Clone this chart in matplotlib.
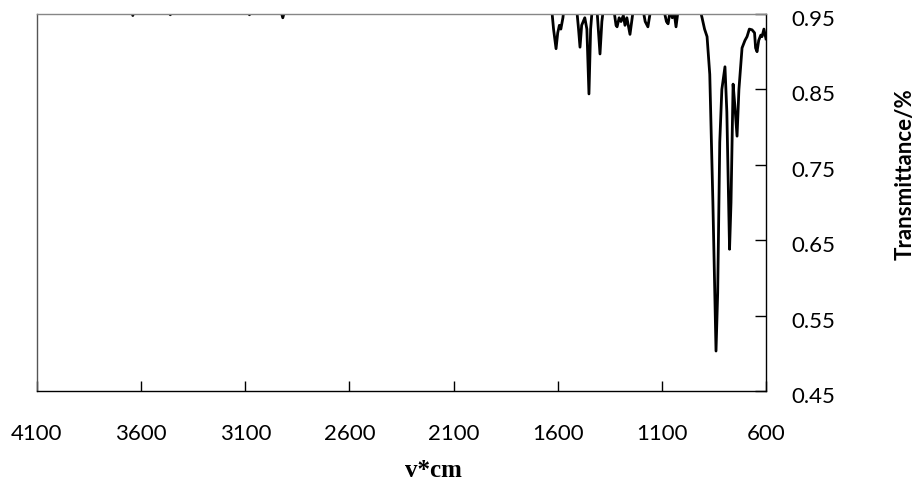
import matplotlib.pyplot as plt
import matplotlib.transforms as mtransforms
import numpy as np

# IR spectrum (wavenumber, transmittance)
wavenumber = [4100, 3660, 3640, 3620, 3480, 3460, 3440, 3100, 3080, 3060,
              2940, 2920, 2900, 1660, 1630, 1620, 1608, 1600, 1592, 1585,
              1575, 1565, 1510, 1500, 1493, 1485, 1470, 1460, 1450, 1442,
              1432, 1410, 1397, 1388, 1375, 1330, 1320, 1315, 1305, 1296,
              1285, 1277, 1268, 1253, 1240, 1225, 1190, 1180, 1167, 1157,
              1147, 1090, 1078, 1070, 1060, 1050, 1040, 1032, 1022, 1013,
              920, 907, 895, 883, 870, 855, 840, 832, 822, 812,
              797, 788, 775, 768, 758, 750, 739, 730, 715, 701,
              691, 680, 667, 655, 650, 643, 635, 625, 619, 610, 600]
transmittance = [0.975, 0.97, 0.948, 0.97, 0.965, 0.949, 0.965, 0.965, 0.949, 0.965,
                 0.965, 0.945, 0.965, 0.975, 0.96, 0.93, 0.904, 0.925, 0.935, 0.93,
                 0.945, 0.97, 0.96, 0.93, 0.906, 0.935, 0.945, 0.93, 0.844, 0.93,
                 0.965, 0.95, 0.897, 0.94, 0.97, 0.955, 0.935, 0.933, 0.945, 0.94,
                 0.948, 0.935, 0.945, 0.923, 0.95, 0.965, 0.955, 0.94, 0.933, 0.95,
                 0.965, 0.955, 0.94, 0.937, 0.955, 0.945, 0.95, 0.933, 0.955, 0.965,
                 0.96, 0.945, 0.93, 0.92, 0.87, 0.70, 0.503, 0.58, 0.78, 0.85,
                 0.88, 0.82, 0.638, 0.70, 0.857, 0.83, 0.788, 0.85, 0.905, 0.915,
                 0.92, 0.93, 0.929, 0.925, 0.905, 0.90, 0.915, 0.922, 0.92, 0.93, 0.917]

x_ticks = [4100, 3600, 3100, 2600, 2100, 1600, 1100, 600]
y_ticks = [0.45, 0.55, 0.65, 0.75, 0.85, 0.95]

fig = plt.figure(figsize=(9.2, 4.85), dpi=100)
ax = fig.add_axes([37/920, 93/485, 729/920, 377/485])

ax.plot(wavenumber, transmittance, color='black', lw=2.0)

ax.set_xlim(4100, 600)
ax.set_ylim(0.45, 0.95)
ax.set_xticks(x_ticks)
ax.set_yticks(y_ticks)
ax.set_xticklabels([str(t) for t in x_ticks])
ax.set_yticklabels(['%.2f' % t for t in y_ticks])
ax.yaxis.tick_right()

ax.tick_params(axis='x', direction='in', length=7, width=1, pad=23,
               labelsize=16)
ax.tick_params(axis='y', direction='in', length=8, width=1, pad=18,
               labelsize=16)
for lab in ax.get_xticklabels() + ax.get_yticklabels():
    lab.set_family('Lato')
# y labels sit a few pixels under their ticks in the original
shift = mtransforms.ScaledTranslation(0, -3/100, fig.dpi_scale_trans)
for lab in ax.get_yticklabels():
    lab.set_transform(lab.get_transform() + shift)

ax.spines['top'].set_color('#868686')
ax.spines['left'].set_color('#555555')
ax.spines['bottom'].set_color('black')
ax.spines['right'].set_color('black')
for s in ax.spines.values():
    s.set_linewidth(1)

fig.text(433/920, 1 - 471/485, 'v*cm', ha='center', va='center',
         family='Liberation Serif', weight='bold', fontsize=18)
fig.text(905/920, 1 - 174/485, 'Transmittance/%', ha='center', va='center',
         rotation=90, family='Lato', weight='bold', fontsize=16)

fig.savefig('out.png', dpi=100)
